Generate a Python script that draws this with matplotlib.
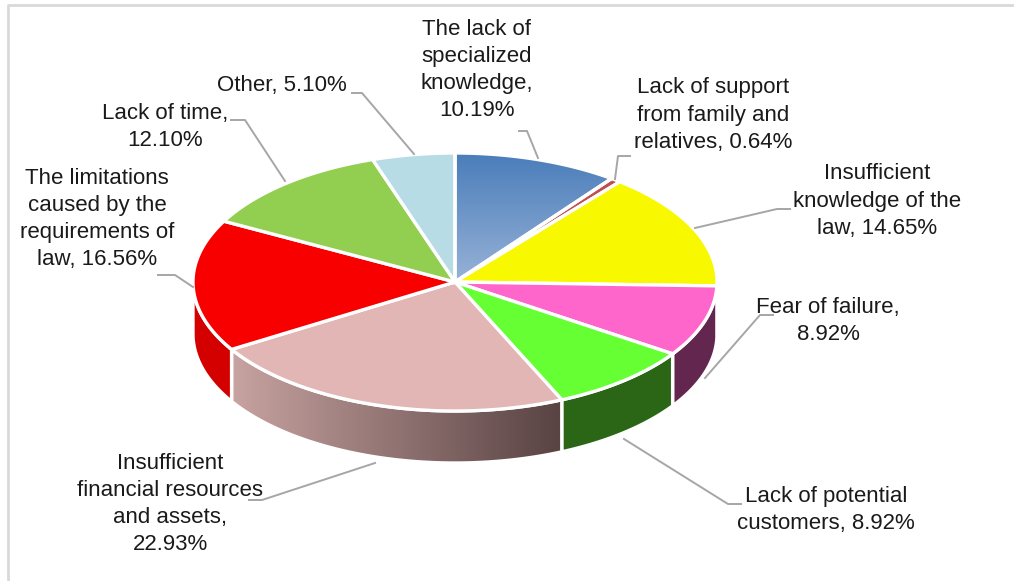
import numpy as np
import matplotlib
matplotlib.use("Agg")
import matplotlib.pyplot as plt
from matplotlib.patches import Polygon
from matplotlib.colors import LinearSegmentedColormap

# survey answers, clockwise from 12 o'clock
labels = [
    "The lack of\nspecialized\nknowledge,\n10.19%",
    "Lack of support\nfrom family and\nrelatives, 0.64%",
    "Insufficient\nknowledge of the\nlaw, 14.65%",
    "Fear of failure,\n8.92%",
    "Lack of potential\ncustomers, 8.92%",
    "Insufficient\nfinancial resources\nand assets,\n22.93%",
    "The limitations\ncaused by the\nrequirements of\nlaw, 16.56%",
    "Lack of time,\n12.10%",
    "Other, 5.10%",
]
shares = [10.19, 0.64, 14.65, 8.92, 8.92, 22.93, 16.56, 12.10, 5.10]
top_colors = ["#6b93c7", "#c0504d", "#f8f800", "#ff66cc", "#66ff33",
              "#e2b6b5", "#f80000", "#92cf50", "#b7dce5"]
side_colors = ["#4f81bd", "#8c2f2c", "#b0b000", "#62264f", "#2a6616",
               "#9a7c7b", "#d40000", "#5e8a2c", "#7fa9b5"]

# label placement (pixels) and leader line paths
label_xy = [(477, 70), (713, 115), (877, 201), (828, 321), (826, 510),
            (170, 504), (97, 219), (165, 127), (282, 86)]
leaders = [
    [(519, 131), (527, 131), (538, 158)],
    [(630, 156), (618, 156), (615, 179)],
    [(790, 209), (777, 209), (695, 228)],
    [(773, 315), (760, 315), (705, 378)],
    [(741, 504), (728, 504), (624, 439)],
    [(249, 500), (262, 500), (375, 463)],
    [(158, 275), (175, 275), (193, 287)],
    [(231, 120), (245, 120), (285, 181)],
    [(352, 93), (362, 93), (414, 154)],
]

W, H = 1014, 581
cx, cy, rx, ry, depth = 455, 282, 262, 129, 52

plt.rcParams['font.family'] = ['Liberation Sans', 'DejaVu Sans']
fig = plt.figure(figsize=(W / 100, H / 100), dpi=100)
ax = fig.add_axes([0, 0, 1, 1])
ax.set_xlim(0, W)
ax.set_ylim(H, 0)
ax.axis('off')

# light frame around the chart area
ax.plot([8, 8, W], [H, 5, 5], color="#d9d9d9", lw=2, solid_capstyle='butt')


def rim(a0, a1, n=80):
    t = np.linspace(a0, a1, n)
    return np.column_stack([cx + rx * np.sin(t), cy - ry * np.cos(t)])


def gradient_fill(poly, c0, c1, horizontal, zorder):
    patch = Polygon(poly, closed=True, facecolor='none', edgecolor='none', zorder=zorder)
    ax.add_patch(patch)
    cmap = LinearSegmentedColormap.from_list('g', [c0, c1])
    grad = np.linspace(0, 1, 256)
    img = grad[None, :] if horizontal else grad[:, None]
    x0, y0 = poly.min(axis=0)
    x1, y1 = poly.max(axis=0)
    im = ax.imshow(img, cmap=cmap, extent=(x0, x1, y1, y0), aspect='auto',
                   zorder=zorder, interpolation='bilinear')
    im.set_clip_path(patch)
    ax.add_patch(Polygon(poly, closed=True, facecolor='none', edgecolor='white',
                         lw=2.4, zorder=zorder + 0.1))


bounds = np.concatenate([[0], np.cumsum(shares)]) / 100 * 2 * np.pi

# side walls of the front half
for i in range(len(shares)):
    a0, a1 = max(bounds[i], np.pi / 2), min(bounds[i + 1], 3 * np.pi / 2)
    if a1 <= a0:
        continue
    top = rim(a0, a1)
    bot = top[::-1] + [0, depth]
    poly = np.vstack([top, bot])
    if i == 5:
        gradient_fill(poly, "#c7a3a1", "#584242", True, 2)
    else:
        ax.add_patch(Polygon(poly, closed=True, facecolor=side_colors[i],
                             edgecolor='white', lw=2.4, zorder=2))

# top faces
for i in range(len(shares)):
    poly = np.vstack([[cx, cy], rim(bounds[i], bounds[i + 1])])
    if i == 0:
        gradient_fill(poly, "#4a7dba", "#97b2d7", False, 3)
    else:
        ax.add_patch(Polygon(poly, closed=True, facecolor=top_colors[i],
                             edgecolor='white', lw=2.4, zorder=3))

# leader lines and labels
for lab, (x, y), path in zip(labels, label_xy, leaders):
    px, py = zip(*path)
    ax.plot(px, py, color="#a6a6a6", lw=1.4, zorder=4)
    ax.text(x, y, lab, ha='center', va='center', fontsize=16, color="#1a1a1a",
            linespacing=1.38, zorder=5)

fig.savefig("out.png", dpi=100)
